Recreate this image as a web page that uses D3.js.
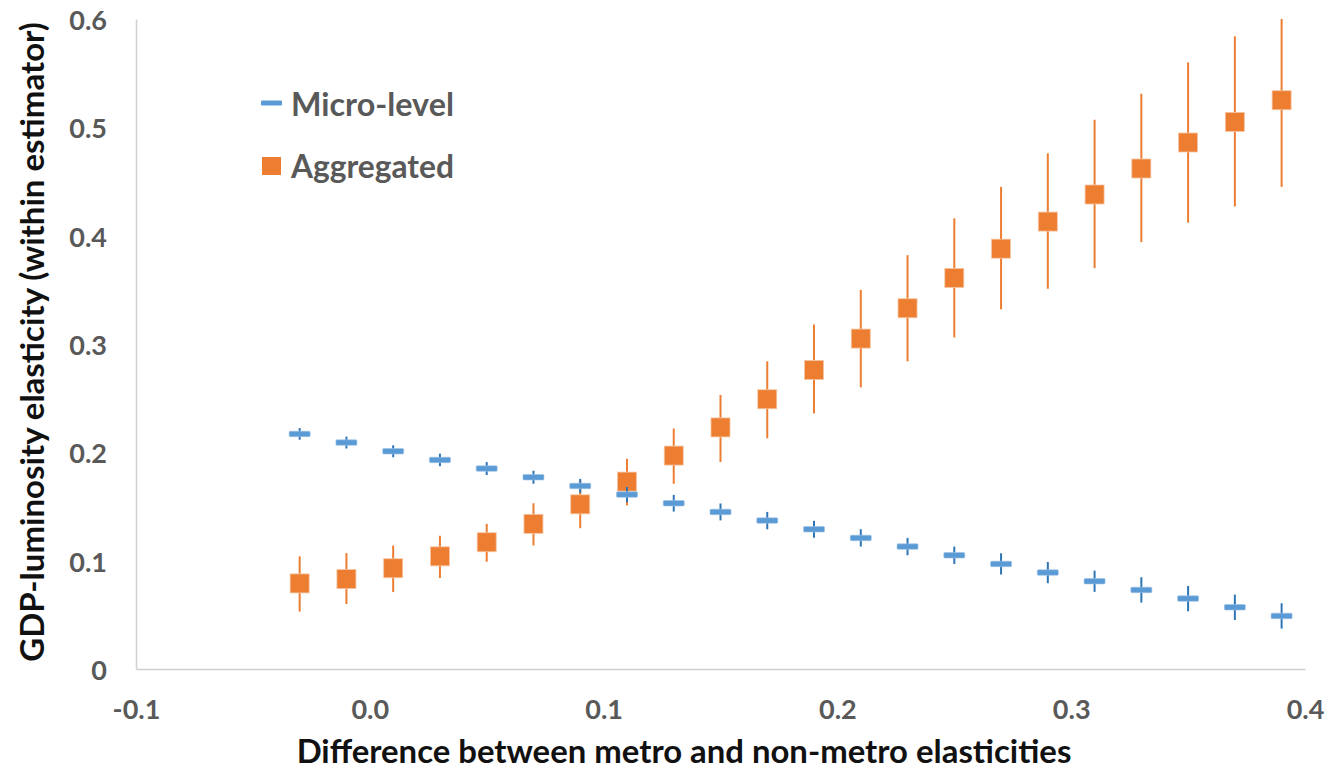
<!DOCTYPE html>
<html>
<head>
<meta charset="utf-8">
<script src="https://cdn.jsdelivr.net/npm/d3@7/dist/d3.min.js"></script>
<style>
  html, body { margin: 0; padding: 0; background: #ffffff; }
  svg { display: block; }
  text { font-family: Lato, "Open Sans", "DejaVu Sans", sans-serif; font-weight: 700; }
</style>
</head>
<body>
<svg id="chart" width="1333" height="770"></svg>
<script>
// ---- data ----
const xValues = [-0.03, -0.01, 0.01, 0.03, 0.05, 0.07, 0.09, 0.11, 0.13, 0.15, 0.17,
                 0.19, 0.21, 0.23, 0.25, 0.27, 0.29, 0.31, 0.33, 0.35, 0.37, 0.39];

const microMid  = [0.217, 0.209, 0.201, 0.193, 0.185, 0.177, 0.169, 0.161, 0.153, 0.145, 0.137,
                   0.129, 0.121, 0.113, 0.105, 0.097, 0.089, 0.081, 0.073, 0.065, 0.057, 0.049];
const microLow  = [0.2116, 0.2035, 0.1955, 0.1872, 0.179, 0.171, 0.1625, 0.154, 0.1453, 0.1372, 0.129,
                   0.1212, 0.113, 0.105, 0.097, 0.0872, 0.0792, 0.0712, 0.0613, 0.0533, 0.0453, 0.0373];
const microHigh = [0.2224, 0.2145, 0.2065, 0.1988, 0.191, 0.183, 0.1755, 0.168, 0.1607, 0.1528, 0.145,
                   0.1368, 0.129, 0.121, 0.113, 0.1068, 0.0988, 0.0908, 0.0847, 0.0767, 0.0687, 0.0607];

const aggMid  = [0.079, 0.083, 0.093, 0.104, 0.117, 0.134, 0.152, 0.173, 0.197, 0.223, 0.249,
                 0.276, 0.305, 0.333, 0.361, 0.388, 0.413, 0.438, 0.462, 0.486, 0.505, 0.525];
const aggLow  = [0.053, 0.060, 0.071, 0.084, 0.099, 0.114, 0.130, 0.151, 0.171, 0.191, 0.213,
                 0.236, 0.260, 0.284, 0.306, 0.332, 0.351, 0.370, 0.394, 0.412, 0.427, 0.445];
const aggHigh = [0.104, 0.107, 0.114, 0.123, 0.134, 0.153, 0.174, 0.194, 0.222, 0.253, 0.284,
                 0.318, 0.350, 0.382, 0.416, 0.445, 0.476, 0.507, 0.531, 0.560, 0.584, 0.600];

const xTickValues = [-0.1, 0.0, 0.1, 0.2, 0.3, 0.4];
const xTickLabels = ["-0.1", "0.0", "0.1", "0.2", "0.3", "0.4"];
const yTickValues = [0, 0.1, 0.2, 0.3, 0.4, 0.5, 0.6];
const yTickLabels = ["0", "0.1", "0.2", "0.3", "0.4", "0.5", "0.6"];

const seriesNames = ["Micro-level", "Aggregated"];
const xTitle = "Difference between metro and non-metro elasticities";
const yTitle = "GDP-luminosity elasticity (within estimator)";

// ---- layout ----
const svg = d3.select("#chart");
const plot = { left: 136, right: 1305, top: 19, bottom: 669 };
const x = d3.scaleLinear().domain([-0.1, 0.4]).range([plot.left, plot.right]);
const y = d3.scaleLinear().domain([0, 0.6]).range([plot.bottom, plot.top]);

const ORANGE = "#ED7D31", BLUE = "#5B9BD5", BLUE_DARK = "#2E75B6";
const GRAY_TEXT = "#595959", AXIS = "#d0d0d0";

function fitText(sel, targetWidth) {
  sel.attr("font-size", 100);
  const w = sel.node().getComputedTextLength();
  sel.attr("font-size", 100 * targetWidth / w);
  return sel;
}

// axes (D3 axes, restyled)
const xAxis = d3.axisBottom(x).tickValues(xTickValues)
  .tickFormat((d, i) => xTickLabels[i]).tickSize(0).tickPadding(0);
const yAxis = d3.axisLeft(y).tickValues(yTickValues)
  .tickFormat((d, i) => yTickLabels[i]).tickSize(0).tickPadding(0);

const gx = svg.append("g").attr("transform", `translate(0,${plot.bottom})`).call(xAxis);
gx.select(".domain").attr("stroke", AXIS).attr("stroke-width", 1.5);
gx.selectAll(".tick text").attr("fill", GRAY_TEXT).attr("dy", null)
  .attr("y", 39).attr("dominant-baseline", "central")
  .attr("font-family", null).attr("font-size", 27);

const gy = svg.append("g").attr("transform", `translate(${plot.left},0)`).call(yAxis);
gy.select(".domain").attr("stroke", AXIS).attr("stroke-width", 1.5);
gy.selectAll(".tick text").attr("fill", GRAY_TEXT).attr("dy", null)
  .attr("x", -29).attr("dominant-baseline", "central")
  .attr("font-family", null).attr("font-size", 27);
svg.selectAll(".tick text").attr("font-size", null).style("font-size", "27px");

// ---- series data ----
const micro = xValues.map((v, i) => ({ x: v, mid: microMid[i], lo: microLow[i], hi: microHigh[i] }));
const agg = xValues.map((v, i) => ({ x: v, mid: aggMid[i], lo: aggLow[i], hi: aggHigh[i] }));

// aggregated whiskers + squares
const gAgg = svg.append("g");
gAgg.selectAll("line").data(agg).join("line")
  .attr("x1", d => x(d.x)).attr("x2", d => x(d.x))
  .attr("y1", d => y(d.lo)).attr("y2", d => y(d.hi))
  .attr("stroke", ORANGE).attr("stroke-width", 2);
const sq = 19;
gAgg.selectAll("rect").data(agg).join("rect")
  .attr("x", d => x(d.x) - sq / 2).attr("y", d => y(d.mid) - sq / 2)
  .attr("width", sq).attr("height", sq)
  .attr("fill", ORANGE).attr("stroke", "#f6c5a3").attr("stroke-width", 0.8);

// micro whiskers + dashes
const gMic = svg.append("g");
gMic.selectAll("line").data(micro).join("line")
  .attr("x1", d => x(d.x)).attr("x2", d => x(d.x))
  .attr("y1", d => y(d.lo)).attr("y2", d => y(d.hi))
  .attr("stroke", BLUE_DARK).attr("stroke-width", 2);
const dw = 21, dh = 5.5;
gMic.selectAll("rect").data(micro).join("rect")
  .attr("x", d => x(d.x) - dw / 2).attr("y", d => y(d.mid) - dh / 2)
  .attr("width", dw).attr("height", dh).attr("rx", 1)
  .attr("fill", BLUE).attr("stroke", "#9dc3e6").attr("stroke-width", 0.6);

// ---- legend ----
const leg = svg.append("g");
leg.append("rect").attr("x", 261).attr("y", 100.5).attr("width", 21).attr("height", 5).attr("rx", 1)
  .attr("fill", BLUE);
fitText(leg.append("text").attr("x", 291).attr("y", 103).attr("dominant-baseline", "central")
  .attr("fill", GRAY_TEXT).text(seriesNames[0]), 163);
leg.append("rect").attr("x", 262).attr("y", 157).attr("width", 19).attr("height", 18)
  .attr("fill", ORANGE);
fitText(leg.append("text").attr("x", 291).attr("y", 166).attr("dominant-baseline", "central")
  .attr("fill", GRAY_TEXT).text(seriesNames[1]), 163);

// ---- axis titles ----
fitText(svg.append("text").attr("x", 684).attr("y", 750).attr("text-anchor", "middle")
  .attr("dominant-baseline", "central").attr("fill", "#111").text(xTitle), 775);
fitText(svg.append("text").attr("transform", "translate(31,342) rotate(-90)")
  .attr("text-anchor", "middle").attr("dominant-baseline", "central")
  .attr("fill", "#111").text(yTitle), 640);
</script>
</body>
</html>
